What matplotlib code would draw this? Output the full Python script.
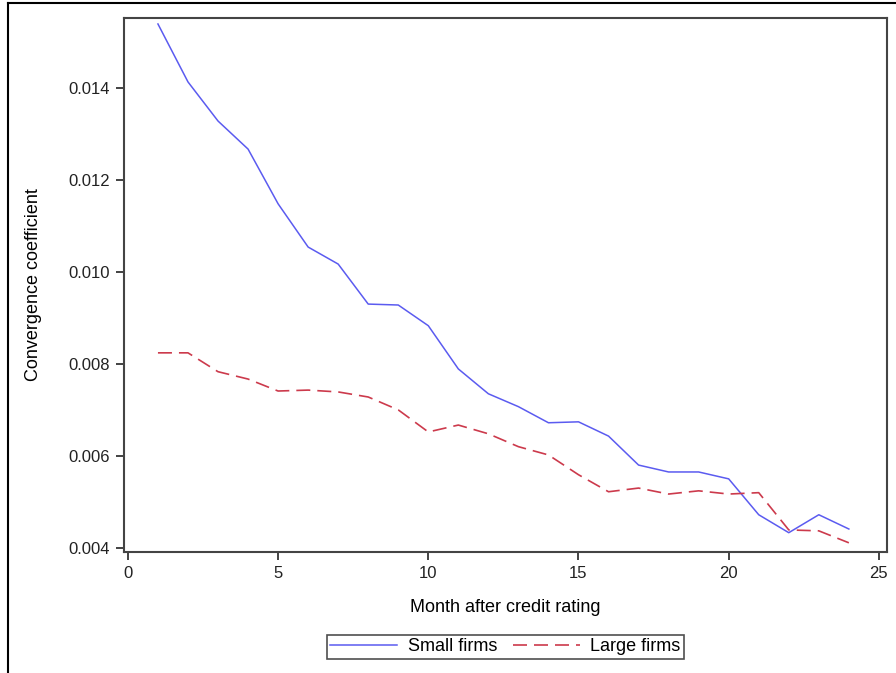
import matplotlib
matplotlib.use("Agg")
import matplotlib.pyplot as plt
from matplotlib.lines import Line2D

plt.rcParams['font.family'] = ['Liberation Sans', 'DejaVu Sans']

months = list(range(1, 25))
small_firms = [0.01539, 0.01413, 0.01328, 0.01267, 0.01148, 0.01054, 0.01017, 0.00930,
               0.00928, 0.00883, 0.00789, 0.00735, 0.00707, 0.00672, 0.00674, 0.00643,
               0.00580, 0.00565, 0.00565, 0.00550, 0.00472, 0.00433, 0.00472, 0.00441]
large_firms = [0.00824, 0.00824, 0.00783, 0.00767, 0.00741, 0.00743, 0.00739, 0.00728,
               0.00700, 0.00652, 0.00667, 0.00648, 0.00620, 0.00602, 0.00559, 0.00522,
               0.00530, 0.00517, 0.00524, 0.00517, 0.00520, 0.00439, 0.00437, 0.00411]
xticks = [0, 5, 10, 15, 20, 25]
yticks = [0.004, 0.006, 0.008, 0.010, 0.012, 0.014]

fig = plt.figure(figsize=(8.96, 6.73), dpi=100)
W, H = 896, 673
ax = fig.add_axes([124 / W, 1 - 552 / H, (887 - 124) / W, (552 - 18) / H])

ax.plot(months, small_firms, '-', color="#5b5bf0", lw=1.1, label="Small firms")
ax.plot(months, large_firms, '--', color="#cc3a4c", lw=1.2, dashes=(8.4, 4.2), label="Large firms")

ax.set_xlim(-0.13, 25.27)
ax.set_ylim(0.00391, 0.01552)
ax.set_xticks(xticks)
ax.set_yticks(yticks)
ax.set_yticklabels([f"{v:.3f}" for v in yticks])
ax.tick_params(direction='out', length=6, width=1.2, labelsize=12, colors="#222222", pad=4)
for s in ax.spines.values():
    s.set_linewidth(1.5)
    s.set_color("#444444")

ax.set_xlabel("Month after credit rating", fontsize=13, labelpad=13)
ax.set_ylabel("Convergence coefficient", fontsize=13, labelpad=19)

leg = ax.legend(loc='upper center', bbox_to_anchor=(0.5, -0.155), ncol=2, frameon=True,
                fancybox=False, fontsize=13, handlelength=3.7, borderpad=0.2,
                columnspacing=0.85, handletextpad=0.6, borderaxespad=0, handleheight=0.6)
leg.get_frame().set_edgecolor("#222222")
leg.get_frame().set_linewidth(1.2)

# outer frame (top and left edges of the graph border)
fig.add_artist(Line2D([8 / W, 1], [1 - 3 / H, 1 - 3 / H], color="black", lw=1.5))
fig.add_artist(Line2D([8 / W, 8 / W], [0, 1 - 3 / H], color="black", lw=1.5))

fig.savefig("out.png", dpi=100)
